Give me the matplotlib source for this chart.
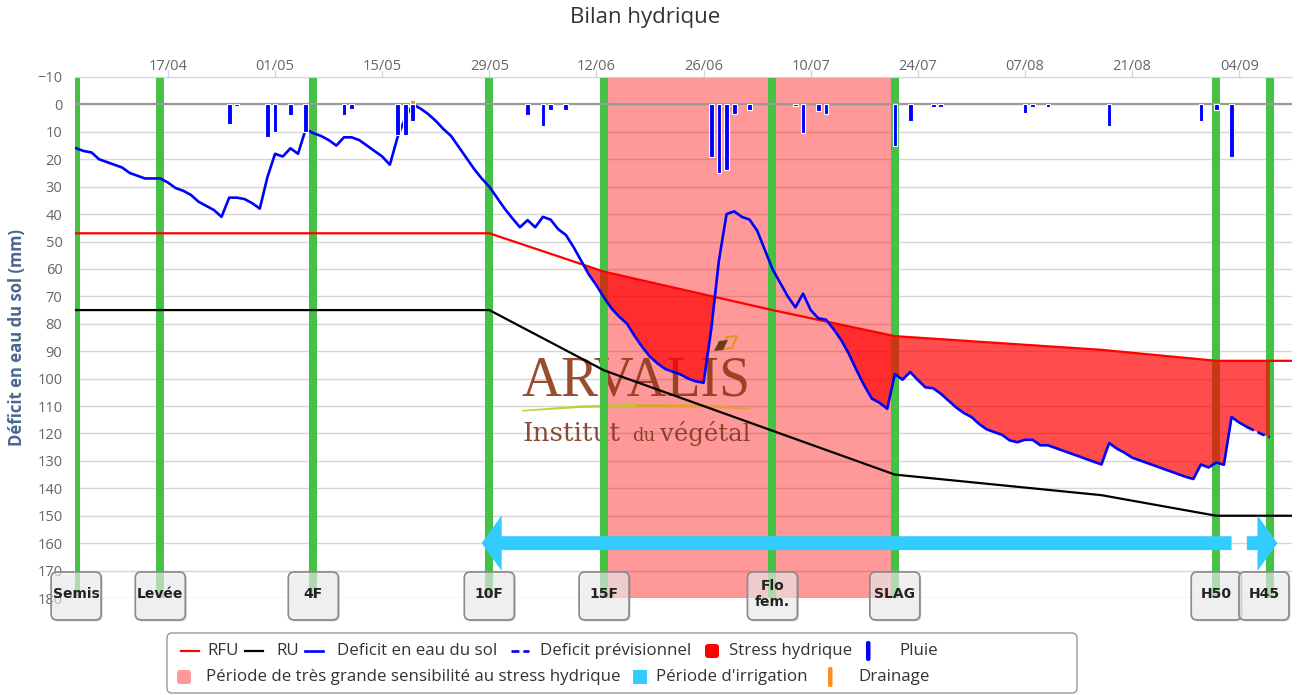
import numpy as np
import pandas as pd
import matplotlib
matplotlib.use("Agg")
import matplotlib.pyplot as plt
import matplotlib.dates as mdates
from matplotlib.patches import FancyBboxPatch, Rectangle, Polygon
from matplotlib.lines import Line2D
from matplotlib.transforms import IdentityTransform

plt.rcParams['font.family'] = ['Open Sans', 'DejaVu Sans']

YEAR = 2019
W, H = 1298, 695

TITLE = "Bilan hydrique"
Y_LABEL = "Déficit en eau du sol (mm)"
X_START, X_END = "05/04", "11/09"
TICK_DATES = ["17/04", "01/05", "15/05", "29/05", "12/06", "26/06",
              "10/07", "24/07", "07/08", "21/08", "04/09"]

# stades
STAGE_NAMES = ["Semis", "Levée", "4F", "10F", "15F", "Flo\nfem.", "SLAG", "H50", "H45"]
STAGE_DATES = ["05/04", "16/04", "06/05", "29/05", "13/06", "05/07", "21/07", "01/09", "08/09"]

SENSITIVE_START, SENSITIVE_END = "13/06", "21/07"
# (queue, pointe) of each irrigation arrow
IRRIGATION = [("03/09", "28/05"), ("05/09", "09/09")]

# deficit en eau du sol, one value per day from DEFICIT_START
DEFICIT_START = "05/04"
DEFICIT_MM = [
    16, 17, 17.5, 20, 21, 22, 23, 25, 26, 27,
    27, 27, 28.5, 30.5, 31.5, 33, 35.5, 37, 38.5, 41,
    34, 34, 34.5, 36, 38, 26.5, 18, 19, 16, 18,
    9, 10.5, 11.5, 13, 15, 12, 12, 13, 15, 17,
    19, 22, 12, 5, 0, 1.5, 3.5, 6, 9, 11.5,
    15.5, 19.5, 23.5, 27, 30, 34, 38, 41.5, 44.8, 42.2,
    44.8, 41, 42, 45.5, 47.6, 52, 57, 62, 66, 70.5,
    74.5, 77.5, 80, 84.5, 88.5, 92, 94.5, 96.5, 97.5, 98.5,
    100, 101, 101.5, 82, 57, 40, 39, 41, 42, 46,
    53, 60, 65, 70, 74, 69, 75, 78, 78.5, 82,
    86, 91, 97, 102.5, 107.3, 108.8, 111, 98.3, 100.4, 97.6,
    100.5, 103.2, 103.5, 105.5, 108, 110.5, 112.5, 114, 116.5, 118.5,
    119.5, 120.5, 122.5, 123.2, 122.3, 122.3, 124.3, 124.3, 125.3, 126.3,
    127.3, 128.3, 129.3, 130.3, 131.3, 123.5, 125.5, 127, 128.8, 129.8,
    130.8, 131.8, 132.8, 133.8, 134.8, 135.8, 136.6, 131.3, 132.4, 130.6,
    131.4, 114, 116, 117.6,
]
FORECAST_START = "05/09"
FORECAST_MM = [117.6, 119, 120.3, 121.4]

RFU_DATES = ["05/04", "29/05", "13/06", "05/07", "21/07", "17/08", "01/09", "11/09"]
RFU_MM = [47, 47, 61, 75, 84.5, 89.5, 93.5, 93.5]

RU_DATES = ["05/04", "29/05", "13/06", "21/07", "17/08", "01/09", "11/09"]
RU_MM = [75, 75, 97, 135, 142.5, 150, 150]

RAIN_DATES = ["25/04", "26/04", "30/04", "01/05", "03/05", "05/05", "10/05", "11/05",
              "17/05", "18/05", "19/05", "03/06", "05/06", "06/06", "08/06",
              "27/06", "28/06", "29/06", "30/06", "02/07", "08/07", "09/07", "11/07",
              "12/07", "21/07", "23/07", "26/07", "27/07", "07/08", "08/08", "10/08",
              "18/08", "30/08", "01/09", "03/09"]
RAIN_MM = [7, 0.5, 12, 10, 4, 10, 4, 1.5,
           11, 11, 6, 4, 8, 2, 2,
           19, 25, 24, 3.5, 2, 0.7, 10.5, 2.5,
           3.5, 15, 6, 1, 1, 3, 1, 0.8,
           8, 6, 2, 19]

DRAIN_DATES = ["19/05"]
DRAIN_MM = [1.5]


def to_num(s):
    d, m = s.split("/")
    return mdates.date2num(pd.Timestamp(YEAR, int(m), int(d)))


def nums(lst):
    return np.array([to_num(s) for s in lst])


IDT = IdentityTransform()

fig = plt.figure(figsize=(W / 100, H / 100), dpi=100)
ax = fig.add_axes([75 / W, 1 - 598 / H, 1217 / W, 521 / H])
ax.set_xlim(to_num(X_START) - 0.15, to_num(X_END) - 0.1)
ax.set_ylim(180, -10)


def A(x, y):
    # pixel of the picture -> axes fraction
    return (x - 75) / 1217, (598 - y) / 521


# grid / axes
ax.set_yticks(range(-10, 181, 10))
ax.yaxis.grid(True, color='#d6d6d6', lw=1)
ax.set_axisbelow(True)
ax.xaxis.tick_top()
ax.set_xticks(nums(TICK_DATES))
ax.set_xticklabels(TICK_DATES)
ax.tick_params(axis='x', length=5, width=1, color='#ccd6eb', labelcolor='#666666',
               labelsize=10.5, pad=-3)
ax.tick_params(axis='y', length=0, labelcolor='#666666', labelsize=10.5, pad=9)
for side in ['left', 'right', 'bottom']:
    ax.spines[side].set_visible(False)
ax.spines['top'].set_color('#ccd6eb')

# période sensible
ax.axvspan(to_num(SENSITIVE_START), to_num(SENSITIVE_END), color='#ff0000', alpha=0.4,
           lw=0, zorder=0.6)

# logo
serif = ['Liberation Serif', 'DejaVu Serif']
ax.text(*A(521, 396), "ARVALIS", transform=ax.transAxes, fontsize=40, color='#8e3a17',
        family=serif, ha='left', va='baseline', alpha=0.9, zorder=0.7)
ax.text(*A(522, 441), "Institut", transform=ax.transAxes, fontsize=19, color='#7d3a1e',
        family=['DejaVu Serif'], ha='left', va='baseline', alpha=0.9, zorder=0.7)
ax.text(*A(632, 441), "du", transform=ax.transAxes, fontsize=13, color='#7d3a1e',
        family=['DejaVu Serif'], ha='left', va='baseline', alpha=0.9, zorder=0.7)
ax.text(*A(660, 441), "végétal", transform=ax.transAxes, fontsize=17.5, color='#7d3a1e',
        family=['DejaVu Serif'], ha='left', va='baseline', alpha=0.9, zorder=0.7)
swoosh_l = [A(522, 410), A(580, 405.5), A(636, 404), A(636, 407), A(580, 408), A(522, 411.5)]
swoosh_r = [A(636, 404), A(700, 404.5), A(750, 408), A(750, 409.5), A(700, 407.5), A(636, 407)]
ax.add_patch(Polygon(swoosh_l, closed=True, transform=ax.transAxes, fc='#b9d022', ec='none',
                     alpha=0.9, zorder=0.7))
ax.add_patch(Polygon(swoosh_r, closed=True, transform=ax.transAxes, fc='#d9a62a', ec='none',
                     alpha=0.9, zorder=0.7))
ax.add_patch(Polygon([A(722, 349), A(727, 337), A(737, 336), A(732, 348)], closed=True,
                     transform=ax.transAxes, fc='none', ec='#e39320', lw=1.4, zorder=0.7))
ax.add_patch(Polygon([A(714, 351), A(719, 341), A(728, 340), A(723, 350)], closed=True,
                     transform=ax.transAxes, fc='#6e3a1c', ec='none', zorder=0.7))

# stades
for d in STAGE_DATES:
    ax.axvline(to_num(d), color='#45c145', lw=5.8, zorder=1)

ax.axhline(0, color='#9a9a9a', lw=1.6, zorder=1.5)

# séries
def_x = to_num(DEFICIT_START) + np.arange(len(DEFICIT_MM))
fc_x = to_num(FORECAST_START) + np.arange(len(FORECAST_MM))
all_x = np.concatenate([def_x, fc_x[1:]])
all_y = np.concatenate([DEFICIT_MM, FORECAST_MM[1:]])
rfu_all = np.interp(all_x, nums(RFU_DATES), RFU_MM)

ax.fill_between(all_x, all_y, rfu_all, where=all_y >= rfu_all, interpolate=True,
                color='#ff0000', alpha=0.7, lw=0, zorder=2)
ax.plot(nums(RFU_DATES), RFU_MM, color='#ff0000', lw=1.6, zorder=3)
ax.plot(nums(RU_DATES), RU_MM, color='#000000', lw=1.6, zorder=3)
ax.plot(def_x, DEFICIT_MM, color='#0000ff', lw=1.9, zorder=4, solid_joinstyle='round')
ax.plot(fc_x, FORECAST_MM, color='#0000ff', lw=1.9, zorder=4, dashes=(3, 1.5))

ax.bar(nums(RAIN_DATES), RAIN_MM, width=0.62, color='#0000ff', edgecolor='white',
       lw=0.8, zorder=5)
ax.bar(nums(DRAIN_DATES), [-v for v in DRAIN_MM], width=0.62, color='#ff8c1a',
       edgecolor='white', lw=0.8, zorder=5)

# irrigation
for tail, tip in IRRIGATION:
    ax.annotate('', xy=(to_num(tip), 160), xytext=(to_num(tail), 160),
                arrowprops=dict(arrowstyle='simple,head_length=0.72,head_width=2.0,tail_width=0.5',
                                mutation_scale=20, fc='#33ccff', ec='none', lw=0,
                                shrinkA=0, shrinkB=0),
                zorder=6, annotation_clip=False)

ax.set_xlim(to_num(X_START) - 0.15, to_num(X_END) - 0.1)
ax.set_ylim(180, -10)

# étiquettes des stades
for name, d in zip(STAGE_NAMES, STAGE_DATES):
    cx = ax.transData.transform((to_num(d), 0))[0]
    cx = min(cx, 1289 - 25)
    fig.add_artist(FancyBboxPatch((cx - 25 + 1.5, H - 620 - 1.5), 50, 48,
                                  boxstyle="round,pad=0,rounding_size=6", transform=IDT,
                                  fc=(0, 0, 0, 0.15), ec='none', zorder=8))
    fig.add_artist(FancyBboxPatch((cx - 25, H - 620), 50, 48,
                                  boxstyle="round,pad=0,rounding_size=6", transform=IDT,
                                  fc=(1, 1, 1, 0.6), ec='#8c8c8c', lw=1.3, zorder=9))
    fig.text(cx, H - 594, name, transform=IDT, ha='center', va='center', fontsize=10,
             fontweight='bold', family=['Liberation Sans Narrow', 'DejaVu Sans'],
             color='#222222', linespacing=1.15, zorder=10)

# titres
fig.text(645, H - 18, TITLE, transform=IDT, ha='center', va='center', fontsize=16,
         color='#333333')
fig.text(17, H - 337, Y_LABEL, transform=IDT, ha='center', va='center', rotation=90,
         fontsize=12, fontweight='bold', color='#4a6890')

# légende
fig.add_artist(FancyBboxPatch((167, H - 693), 910, 60, boxstyle="round,pad=0,rounding_size=5",
                              transform=IDT, fc='white', ec='#999999', lw=1, zorder=8))
r1, r2 = H - 651, H - 677
lg = dict(transform=IDT, ha='left', va='center', fontsize=12.2, color='#333333', zorder=10)
fig.add_artist(Line2D([181, 199], [r1, r1], transform=IDT, color='#ff0000', lw=1.6, zorder=10))
fig.text(207, r1, "RFU", **lg)
fig.add_artist(Line2D([245, 263], [r1, r1], transform=IDT, color='#000000', lw=1.6, zorder=10))
fig.text(276, r1, "RU", **lg)
fig.add_artist(Line2D([305, 323], [r1, r1], transform=IDT, color='#0000ff', lw=1.9, zorder=10))
fig.text(337, r1, "Deficit en eau du sol", **lg)
fig.add_artist(Line2D([511, 529], [r1, r1], transform=IDT, color='#0000ff', lw=1.9,
                      dashes=(3, 1.5), zorder=10))
fig.text(540, r1, "Deficit prévisionnel", **lg)
fig.add_artist(FancyBboxPatch((705, r1 - 7), 14, 14, boxstyle="round,pad=0,rounding_size=3",
                              transform=IDT, fc='#ff0000', ec='none', zorder=10))
fig.text(729, r1, "Stress hydrique", **lg)
fig.add_artist(FancyBboxPatch((866, r1 - 10), 4.5, 20, boxstyle="round,pad=0,rounding_size=2",
                              transform=IDT, fc='#0000ff', ec='none', zorder=10))
fig.text(899, r1, "Pluie", **lg)
fig.add_artist(FancyBboxPatch((177, r2 - 7), 14, 14, boxstyle="round,pad=0,rounding_size=3",
                              transform=IDT, fc='#ff9999', ec='none', zorder=10))
fig.text(206, r2, "Période de très grande sensibilité au stress hydrique", **lg)
fig.add_artist(Rectangle((633, r2 - 7), 14, 14, transform=IDT, fc='#33ccff', ec='none', zorder=10))
fig.text(656, r2, "Période d'irrigation", **lg)
fig.add_artist(FancyBboxPatch((828, r2 - 10), 4.5, 20, boxstyle="round,pad=0,rounding_size=2",
                              transform=IDT, fc='#ff8c1a', ec='none', zorder=10))
fig.text(858, r2, "Drainage", **lg)

fig.savefig("out.png", dpi=100)
